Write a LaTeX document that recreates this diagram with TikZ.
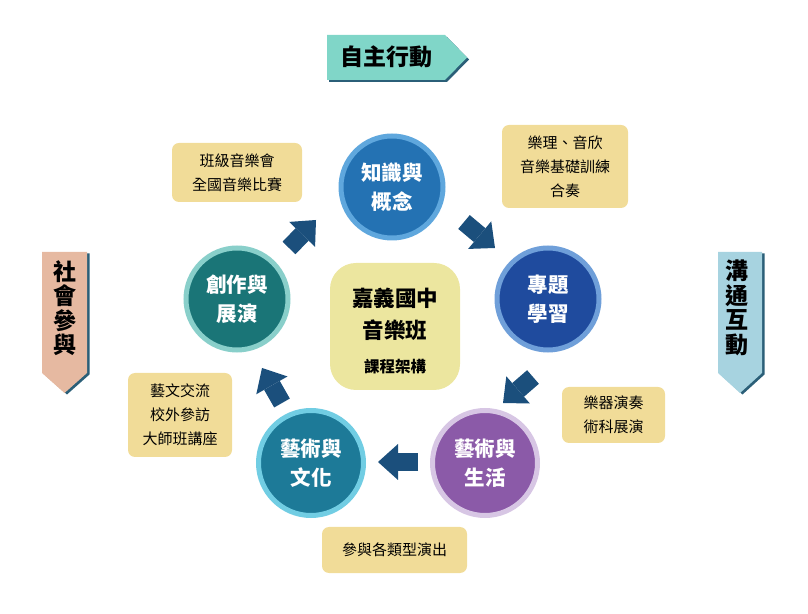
\documentclass[tikz,border=0pt]{standalone}
\usepackage{fontspec}
\setmainfont{Noto Sans CJK TC}
\usepackage{xcolor}
\usepackage{tikz}
\usetikzlibrary{arrows.meta, positioning, calc}

\definecolor{flowblue}{HTML}{1B4F7C}
\definecolor{flagshade}{HTML}{2B5F78}
\definecolor{flagteal}{HTML}{80D6C8}
\definecolor{flagpeach}{HTML}{E6B9A1}
\definecolor{flagsky}{HTML}{A7D3E0}
\definecolor{notetan}{HTML}{F1DC98}
\definecolor{hubyellow}{HTML}{ECE69F}
\definecolor{knowin}{HTML}{2472B3}
\definecolor{knowring}{HTML}{5FA7DD}
\definecolor{topicin}{HTML}{1F4B9E}
\definecolor{topicring}{HTML}{6F9FD9}
\definecolor{lifein}{HTML}{8B5AA8}
\definecolor{lifering}{HTML}{D7C6E4}
\definecolor{culturein}{HTML}{1D7A98}
\definecolor{culturering}{HTML}{71CDE3}
\definecolor{createin}{HTML}{1A7577}
\definecolor{createring}{HTML}{89CFCA}

\begin{document}
\begin{tikzpicture}[x=1pt, y=1pt,
  stage/.style={circle, minimum size=102pt, line width=5pt, text=white, align=center, inner sep=0pt,
    font=\fontsize{20.5}{29}\selectfont\bfseries},
  note/.style={rounded corners=7pt, fill=notetan, align=center, inner sep=0pt,
    font=\fontsize{15}{24}\selectfont},
  flow/.style={line width=18pt, draw=flowblue, -{Triangle[width=36pt,length=20pt,line width=0pt]}},
  flag/.style={align=center, font=\fontsize{23}{24.5}\selectfont\bfseries}]
  \useasboundingbox (0,0) rectangle (808,613);

  \fill[flagshade, shift={(2,-2)}] (327,533) -- (445,533) -- (467,555.5) -- (445,578) -- (327,578) -- cycle;
  \fill[flagteal] (327,533) -- (445,533) -- (467,555.5) -- (445,578) -- (327,578) -- cycle;
  \node[flag] (selfact) at (386,556) {自主行動};

  \fill[flagshade, shift={(2.5,-1.5)}] (42,361) -- (87,361) -- (87,240) -- (64.5,220) -- (42,240) -- cycle;
  \fill[flagpeach] (42,361) -- (87,361) -- (87,240) -- (64.5,220) -- (42,240) -- cycle;
  \node[flag] (social) at (65,305) {社\\會\\參\\與};

  \fill[flagshade, shift={(2.5,-1.5)}] (718,361) -- (762,361) -- (762,240) -- (740,220) -- (718,240) -- cycle;
  \fill[flagsky] (718,361) -- (762,361) -- (762,240) -- (740,220) -- (718,240) -- cycle;
  \node[flag] (talk) at (737,305) {溝\\通\\互\\動};

  \node[rounded corners=26pt, fill=hubyellow, minimum width=130pt, minimum height=127pt] (hub) at (395,286.5) {};
  \node[font=\fontsize{21.5}{24}\selectfont\bfseries] (school) at (395,315) {嘉義國中};
  \node[font=\fontsize{21.5}{24}\selectfont\bfseries] (class) at (395,283) {音樂班};
  \node[font=\fontsize{15.5}{18}\selectfont\bfseries] (frame) at (395,246) {課程架構};

  \node[stage, fill=knowin, draw=knowring] (know) at (392,426) {知識與\\概念};
  \node[stage, fill=topicin, draw=topicring] (topic) at (548,314) {專題\\學習};
  \node[stage, fill=lifein, draw=lifering, minimum size=105pt] (life) at (485,150) {藝術與\\生活};
  \node[stage, fill=culturein, draw=culturering, minimum size=105pt] (culture) at (311,150) {藝術與\\文化};
  \node[stage, fill=createin, draw=createring] (create) at (237,314) {創作與\\展演};

  \node[note, minimum width=130pt, minimum height=59pt] (concert) at (237,440.5) {班級音樂會\\全國音樂比賽};
  \node[note, minimum width=126pt, minimum height=83pt] (theory) at (565,446.5) {樂理、音欣\\音樂基礎訓練\\合奏};
  \node[note, minimum width=104pt, minimum height=84pt] (exchange) at (180,198) {藝文交流\\校外參訪\\大師班講座};
  \node[note, minimum width=103pt, minimum height=56pt] (playing) at (613.5,198) {樂器演奏\\術科展演};
  \node[note, minimum width=145pt, minimum height=46pt] (events) at (394.5,63) {參與各類型演出};

  \draw[flow] ([shift={(52,51)}]create.center) -- ([shift={(-76,-33)}]know.center);
  \draw[flow] ([shift={(72,-35)}]know.center) -- ([shift={(-53,51)}]topic.center);
  \draw[flow] ([shift={(-15,-78)}]topic.center) -- ([shift={(18,60)}]life.center);
  \draw[flow] ([shift={(-67,1)}]life.center) -- ([shift={(67,1)}]culture.center);
  \draw[flow] ([shift={(-29,60)}]culture.center) -- ([shift={(25,-69)}]create.center);
\end{tikzpicture}
\end{document}
